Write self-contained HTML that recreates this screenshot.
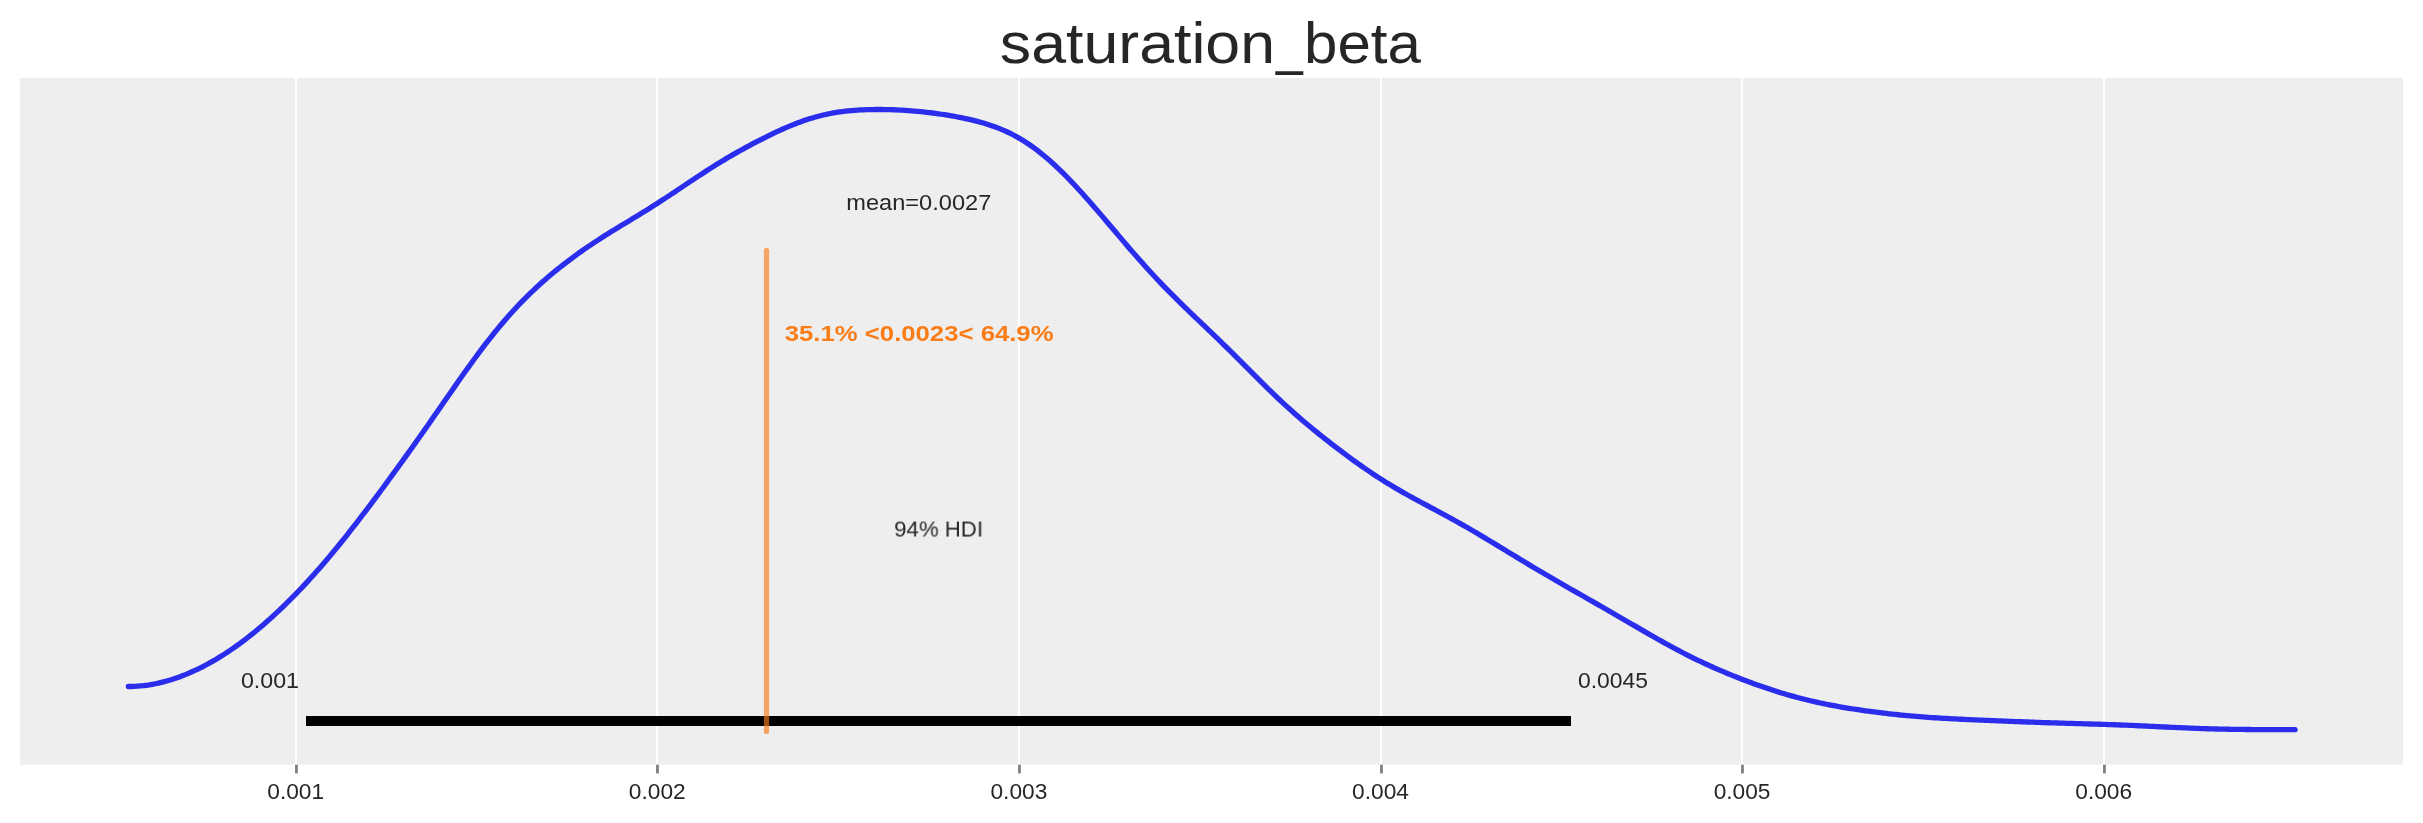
<!DOCTYPE html>
<html lang="en"><head><meta charset="utf-8"><title>saturation_beta</title>
<style>
html,body{margin:0;padding:0;background:#fff;}
body{width:2423px;height:823px;position:relative;overflow:hidden;font-family:"Liberation Sans",sans-serif;}
svg{position:absolute;left:0;top:0;}
.t{will-change:transform;position:absolute;left:0;top:0;white-space:pre;line-height:1;transform-origin:0 0;font-family:"Liberation Sans",sans-serif;}
.c{text-align:center;width:400px;transform-origin:200px 0;}
</style></head><body>
<svg width="2423" height="823" viewBox="0 0 2423 823">
<rect x="19.9" y="77.9" width="2383.10" height="686.80" fill="#eeeeee"/>
<rect x="294.95" y="77.9" width="2.1" height="686.80" fill="#fff"/><rect x="655.95" y="77.9" width="2.1" height="686.80" fill="#fff"/><rect x="1017.95" y="77.9" width="2.1" height="686.80" fill="#fff"/><rect x="1379.95" y="77.9" width="2.1" height="686.80" fill="#fff"/><rect x="1740.95" y="77.9" width="2.1" height="686.80" fill="#fff"/><rect x="2102.95" y="77.9" width="2.1" height="686.80" fill="#fff"/>
<rect x="295.05" y="764.7" width="2.8" height="8.7" fill="#808080"/><rect x="656.05" y="764.7" width="2.8" height="8.7" fill="#808080"/><rect x="1018.05" y="764.7" width="2.8" height="8.7" fill="#808080"/><rect x="1380.05" y="764.7" width="2.8" height="8.7" fill="#808080"/><rect x="1741.05" y="764.7" width="2.8" height="8.7" fill="#808080"/><rect x="2103.05" y="764.7" width="2.8" height="8.7" fill="#808080"/>
<path d="M128.4,686.51 L131.4,686.48 L134.4,686.38 L137.4,686.20 L140.4,685.96 L143.4,685.66 L146.4,685.28 L149.4,684.84 L152.4,684.33 L155.4,683.76 L158.4,683.12 L161.4,682.41 L164.4,681.65 L167.4,680.82 L170.4,679.93 L173.4,678.98 L176.4,677.97 L179.4,676.91 L182.4,675.78 L185.4,674.59 L188.4,673.35 L191.4,672.05 L194.4,670.70 L197.4,669.29 L200.4,667.82 L203.4,666.30 L206.4,664.73 L209.4,663.10 L212.4,661.41 L215.4,659.67 L218.4,657.88 L221.4,656.03 L224.4,654.13 L227.4,652.18 L230.4,650.17 L233.4,648.11 L236.4,646.00 L239.4,643.83 L242.4,641.61 L245.4,639.34 L248.4,637.02 L251.4,634.65 L254.4,632.23 L257.4,629.76 L260.4,627.24 L263.4,624.67 L266.4,622.06 L269.4,619.39 L272.4,616.68 L275.4,613.92 L278.4,611.12 L281.4,608.27 L284.4,605.38 L287.4,602.44 L290.4,599.45 L293.4,596.42 L296.4,593.34 L299.4,590.22 L302.4,587.06 L305.4,583.85 L308.4,580.60 L311.4,577.30 L314.4,573.96 L317.4,570.58 L320.4,567.15 L323.4,563.68 L326.4,560.17 L329.4,556.62 L332.4,553.03 L335.4,549.41 L338.4,545.74 L341.4,542.04 L344.4,538.30 L347.4,534.53 L350.4,530.73 L353.4,526.90 L356.4,523.03 L359.4,519.14 L362.4,515.23 L365.4,511.29 L368.4,507.33 L371.4,503.34 L374.4,499.34 L377.4,495.31 L380.4,491.27 L383.4,487.21 L386.4,483.14 L389.4,479.04 L392.4,474.93 L395.4,470.81 L398.4,466.67 L401.4,462.51 L404.4,458.34 L407.4,454.15 L410.4,449.95 L413.4,445.73 L416.4,441.50 L419.4,437.25 L422.4,432.99 L425.4,428.71 L428.4,424.43 L431.4,420.13 L434.4,415.82 L437.4,411.50 L440.4,407.18 L443.4,402.86 L446.4,398.54 L449.4,394.22 L452.4,389.91 L455.4,385.61 L458.4,381.33 L461.4,377.06 L464.4,372.83 L467.4,368.62 L470.4,364.44 L473.4,360.30 L476.4,356.21 L479.4,352.16 L482.4,348.17 L485.4,344.23 L488.4,340.35 L491.4,336.53 L494.4,332.78 L497.4,329.09 L500.4,325.47 L503.4,321.93 L506.4,318.45 L509.4,315.05 L512.4,311.72 L515.4,308.45 L518.4,305.26 L521.4,302.14 L524.4,299.09 L527.4,296.10 L530.4,293.18 L533.4,290.31 L536.4,287.51 L539.4,284.77 L542.4,282.08 L545.4,279.44 L548.4,276.86 L551.4,274.32 L554.4,271.83 L557.4,269.38 L560.4,266.98 L563.4,264.62 L566.4,262.30 L569.4,260.02 L572.4,257.78 L575.4,255.58 L578.4,253.41 L581.4,251.28 L584.4,249.18 L587.4,247.12 L590.4,245.08 L593.4,243.08 L596.4,241.10 L599.4,239.16 L602.4,237.23 L605.4,235.34 L608.4,233.46 L611.4,231.60 L614.4,229.75 L617.4,227.92 L620.4,226.09 L623.4,224.28 L626.4,222.46 L629.4,220.65 L632.4,218.84 L635.4,217.02 L638.4,215.19 L641.4,213.35 L644.4,211.50 L647.4,209.64 L650.4,207.76 L653.4,205.86 L656.4,203.95 L659.4,202.02 L662.4,200.08 L665.4,198.12 L668.4,196.15 L671.4,194.16 L674.4,192.17 L677.4,190.16 L680.4,188.15 L683.4,186.14 L686.4,184.13 L689.4,182.12 L692.4,180.12 L695.4,178.12 L698.4,176.14 L701.4,174.17 L704.4,172.21 L707.4,170.28 L710.4,168.36 L713.4,166.47 L716.4,164.60 L719.4,162.75 L722.4,160.92 L725.4,159.12 L728.4,157.34 L731.4,155.59 L734.4,153.86 L737.4,152.15 L740.4,150.47 L743.4,148.81 L746.4,147.17 L749.4,145.55 L752.4,143.95 L755.4,142.37 L758.4,140.82 L761.4,139.28 L764.4,137.77 L767.4,136.28 L770.4,134.81 L773.4,133.37 L776.4,131.96 L779.4,130.58 L782.4,129.23 L785.4,127.91 L788.4,126.62 L791.4,125.38 L794.4,124.17 L797.4,123.01 L800.4,121.90 L803.4,120.83 L806.4,119.80 L809.4,118.83 L812.4,117.91 L815.4,117.05 L818.4,116.23 L821.4,115.47 L824.4,114.76 L827.4,114.11 L830.4,113.50 L833.4,112.95 L836.4,112.44 L839.4,111.99 L842.4,111.58 L845.4,111.21 L848.4,110.88 L851.4,110.60 L854.4,110.35 L857.4,110.14 L860.4,109.96 L863.4,109.81 L866.4,109.69 L869.4,109.60 L872.4,109.54 L875.4,109.50 L878.4,109.49 L881.4,109.50 L884.4,109.53 L887.4,109.59 L890.4,109.67 L893.4,109.77 L896.4,109.89 L899.4,110.03 L902.4,110.19 L905.4,110.38 L908.4,110.58 L911.4,110.81 L914.4,111.06 L917.4,111.33 L920.4,111.62 L923.4,111.94 L926.4,112.27 L929.4,112.63 L932.4,113.00 L935.4,113.40 L938.4,113.81 L941.4,114.25 L944.4,114.71 L947.4,115.18 L950.4,115.68 L953.4,116.21 L956.4,116.75 L959.4,117.32 L962.4,117.92 L965.4,118.54 L968.4,119.20 L971.4,119.89 L974.4,120.62 L977.4,121.38 L980.4,122.19 L983.4,123.04 L986.4,123.95 L989.4,124.91 L992.4,125.92 L995.4,127.00 L998.4,128.15 L1001.4,129.37 L1004.4,130.65 L1007.4,132.02 L1010.4,133.47 L1013.4,135.00 L1016.4,136.62 L1019.4,138.32 L1022.4,140.11 L1025.4,142.00 L1028.4,143.97 L1031.4,146.04 L1034.4,148.20 L1037.4,150.45 L1040.4,152.79 L1043.4,155.21 L1046.4,157.73 L1049.4,160.32 L1052.4,163.00 L1055.4,165.76 L1058.4,168.59 L1061.4,171.50 L1064.4,174.47 L1067.4,177.51 L1070.4,180.61 L1073.4,183.77 L1076.4,186.98 L1079.4,190.24 L1082.4,193.55 L1085.4,196.90 L1088.4,200.28 L1091.4,203.70 L1094.4,207.15 L1097.4,210.63 L1100.4,214.13 L1103.4,217.64 L1106.4,221.17 L1109.4,224.71 L1112.4,228.25 L1115.4,231.80 L1118.4,235.34 L1121.4,238.87 L1124.4,242.40 L1127.4,245.91 L1130.4,249.40 L1133.4,252.87 L1136.4,256.31 L1139.4,259.73 L1142.4,263.11 L1145.4,266.46 L1148.4,269.78 L1151.4,273.06 L1154.4,276.31 L1157.4,279.52 L1160.4,282.68 L1163.4,285.82 L1166.4,288.91 L1169.4,291.97 L1172.4,294.99 L1175.4,297.99 L1178.4,300.95 L1181.4,303.90 L1184.4,306.81 L1187.4,309.71 L1190.4,312.60 L1193.4,315.47 L1196.4,318.34 L1199.4,321.20 L1202.4,324.06 L1205.4,326.92 L1208.4,329.79 L1211.4,332.67 L1214.4,335.56 L1217.4,338.47 L1220.4,341.38 L1223.4,344.31 L1226.4,347.26 L1229.4,350.22 L1232.4,353.19 L1235.4,356.18 L1238.4,359.17 L1241.4,362.17 L1244.4,365.18 L1247.4,368.19 L1250.4,371.20 L1253.4,374.21 L1256.4,377.21 L1259.4,380.20 L1262.4,383.17 L1265.4,386.12 L1268.4,389.06 L1271.4,391.97 L1274.4,394.85 L1277.4,397.71 L1280.4,400.53 L1283.4,403.33 L1286.4,406.09 L1289.4,408.82 L1292.4,411.51 L1295.4,414.17 L1298.4,416.80 L1301.4,419.39 L1304.4,421.95 L1307.4,424.48 L1310.4,426.99 L1313.4,429.46 L1316.4,431.91 L1319.4,434.33 L1322.4,436.73 L1325.4,439.11 L1328.4,441.46 L1331.4,443.79 L1334.4,446.11 L1337.4,448.40 L1340.4,450.67 L1343.4,452.93 L1346.4,455.16 L1349.4,457.37 L1352.4,459.56 L1355.4,461.73 L1358.4,463.87 L1361.4,465.99 L1364.4,468.08 L1367.4,470.14 L1370.4,472.18 L1373.4,474.19 L1376.4,476.16 L1379.4,478.11 L1382.4,480.02 L1385.4,481.91 L1388.4,483.76 L1391.4,485.58 L1394.4,487.38 L1397.4,489.14 L1400.4,490.88 L1403.4,492.60 L1406.4,494.29 L1409.4,495.96 L1412.4,497.61 L1415.4,499.25 L1418.4,500.87 L1421.4,502.48 L1424.4,504.09 L1427.4,505.69 L1430.4,507.29 L1433.4,508.89 L1436.4,510.49 L1439.4,512.10 L1442.4,513.72 L1445.4,515.34 L1448.4,516.98 L1451.4,518.62 L1454.4,520.28 L1457.4,521.96 L1460.4,523.65 L1463.4,525.35 L1466.4,527.07 L1469.4,528.80 L1472.4,530.54 L1475.4,532.30 L1478.4,534.07 L1481.4,535.85 L1484.4,537.64 L1487.4,539.44 L1490.4,541.24 L1493.4,543.06 L1496.4,544.87 L1499.4,546.69 L1502.4,548.52 L1505.4,550.34 L1508.4,552.17 L1511.4,553.99 L1514.4,555.82 L1517.4,557.64 L1520.4,559.45 L1523.4,561.26 L1526.4,563.07 L1529.4,564.87 L1532.4,566.67 L1535.4,568.46 L1538.4,570.24 L1541.4,572.01 L1544.4,573.78 L1547.4,575.54 L1550.4,577.30 L1553.4,579.05 L1556.4,580.79 L1559.4,582.53 L1562.4,584.26 L1565.4,585.99 L1568.4,587.71 L1571.4,589.43 L1574.4,591.14 L1577.4,592.86 L1580.4,594.57 L1583.4,596.28 L1586.4,597.99 L1589.4,599.70 L1592.4,601.41 L1595.4,603.13 L1598.4,604.84 L1601.4,606.56 L1604.4,608.28 L1607.4,610.01 L1610.4,611.74 L1613.4,613.47 L1616.4,615.20 L1619.4,616.94 L1622.4,618.68 L1625.4,620.43 L1628.4,622.17 L1631.4,623.92 L1634.4,625.66 L1637.4,627.41 L1640.4,629.15 L1643.4,630.89 L1646.4,632.62 L1649.4,634.35 L1652.4,636.07 L1655.4,637.78 L1658.4,639.48 L1661.4,641.17 L1664.4,642.84 L1667.4,644.50 L1670.4,646.14 L1673.4,647.76 L1676.4,649.37 L1679.4,650.95 L1682.4,652.52 L1685.4,654.06 L1688.4,655.59 L1691.4,657.09 L1694.4,658.57 L1697.4,660.03 L1700.4,661.46 L1703.4,662.88 L1706.4,664.27 L1709.4,665.64 L1712.4,666.99 L1715.4,668.32 L1718.4,669.62 L1721.4,670.91 L1724.4,672.18 L1727.4,673.44 L1730.4,674.67 L1733.4,675.88 L1736.4,677.08 L1739.4,678.26 L1742.4,679.43 L1745.4,680.57 L1748.4,681.70 L1751.4,682.81 L1754.4,683.91 L1757.4,684.98 L1760.4,686.04 L1763.4,687.09 L1766.4,688.11 L1769.4,689.11 L1772.4,690.10 L1775.4,691.06 L1778.4,692.01 L1781.4,692.93 L1784.4,693.83 L1787.4,694.72 L1790.4,695.58 L1793.4,696.42 L1796.4,697.23 L1799.4,698.03 L1802.4,698.80 L1805.4,699.55 L1808.4,700.28 L1811.4,700.99 L1814.4,701.68 L1817.4,702.35 L1820.4,703.00 L1823.4,703.63 L1826.4,704.24 L1829.4,704.83 L1832.4,705.40 L1835.4,705.96 L1838.4,706.50 L1841.4,707.03 L1844.4,707.54 L1847.4,708.04 L1850.4,708.52 L1853.4,709.00 L1856.4,709.45 L1859.4,709.90 L1862.4,710.34 L1865.4,710.76 L1868.4,711.17 L1871.4,711.58 L1874.4,711.97 L1877.4,712.35 L1880.4,712.72 L1883.4,713.08 L1886.4,713.43 L1889.4,713.77 L1892.4,714.11 L1895.4,714.43 L1898.4,714.74 L1901.4,715.04 L1904.4,715.33 L1907.4,715.62 L1910.4,715.89 L1913.4,716.15 L1916.4,716.40 L1919.4,716.65 L1922.4,716.88 L1925.4,717.11 L1928.4,717.33 L1931.4,717.54 L1934.4,717.74 L1937.4,717.93 L1940.4,718.11 L1943.4,718.29 L1946.4,718.47 L1949.4,718.63 L1952.4,718.79 L1955.4,718.95 L1958.4,719.10 L1961.4,719.25 L1964.4,719.39 L1967.4,719.53 L1970.4,719.66 L1973.4,719.80 L1976.4,719.93 L1979.4,720.06 L1982.4,720.19 L1985.4,720.31 L1988.4,720.44 L1991.4,720.57 L1994.4,720.69 L1997.4,720.81 L2000.4,720.93 L2003.4,721.06 L2006.4,721.18 L2009.4,721.30 L2012.4,721.42 L2015.4,721.53 L2018.4,721.65 L2021.4,721.77 L2024.4,721.88 L2027.4,721.99 L2030.4,722.10 L2033.4,722.21 L2036.4,722.32 L2039.4,722.43 L2042.4,722.53 L2045.4,722.63 L2048.4,722.73 L2051.4,722.83 L2054.4,722.93 L2057.4,723.02 L2060.4,723.11 L2063.4,723.20 L2066.4,723.29 L2069.4,723.38 L2072.4,723.47 L2075.4,723.55 L2078.4,723.64 L2081.4,723.72 L2084.4,723.81 L2087.4,723.90 L2090.4,723.98 L2093.4,724.07 L2096.4,724.16 L2099.4,724.26 L2102.4,724.35 L2105.4,724.45 L2108.4,724.55 L2111.4,724.65 L2114.4,724.76 L2117.4,724.87 L2120.4,724.98 L2123.4,725.10 L2126.4,725.22 L2129.4,725.35 L2132.4,725.47 L2135.4,725.60 L2138.4,725.74 L2141.4,725.87 L2144.4,726.01 L2147.4,726.15 L2150.4,726.29 L2153.4,726.44 L2156.4,726.58 L2159.4,726.73 L2162.4,726.87 L2165.4,727.02 L2168.4,727.16 L2171.4,727.30 L2174.4,727.44 L2177.4,727.58 L2180.4,727.71 L2183.4,727.84 L2186.4,727.97 L2189.4,728.09 L2192.4,728.21 L2195.4,728.32 L2198.4,728.43 L2201.4,728.54 L2204.4,728.64 L2207.4,728.73 L2210.4,728.82 L2213.4,728.90 L2216.4,728.98 L2219.4,729.05 L2222.4,729.12 L2225.4,729.18 L2228.4,729.24 L2231.4,729.29 L2234.4,729.33 L2237.4,729.38 L2240.4,729.41 L2243.4,729.45 L2246.4,729.48 L2249.4,729.50 L2252.4,729.53 L2255.4,729.55 L2258.4,729.56 L2261.4,729.58 L2264.4,729.59 L2267.4,729.60 L2270.4,729.61 L2273.4,729.62 L2276.4,729.63 L2279.4,729.63 L2282.4,729.64 L2285.4,729.64 L2288.4,729.64 L2291.4,729.64 L2294.4,729.64 L2295.0,729.64" fill="none" stroke="#2a2eec" stroke-width="5.3" stroke-linecap="round" stroke-linejoin="round"/>
<rect x="306" y="716" width="1265" height="10" fill="#000"/>
<line x1="766.5" y1="250.3" x2="766.5" y2="731.4" stroke="#fa7c17" stroke-opacity="0.65" stroke-width="5.2" stroke-linecap="round"/>
</svg>
<div class="title" style="color:#262626"><span class="t" style="font-size:57.15px;transform:translate(999.86px,14.85px) scaleX(1.0965)">saturation</span><span class="t" style="font-size:57.15px;transform:translate(1276.00px,15.99px) scaleX(0.84)">_</span><span class="t" style="font-size:57.15px;transform:translate(1304.00px,14.85px) scaleX(1.0504)">beta</span></div>
<div class="t" style="font-size:22.6px;color:#262626;font-weight:normal;transform:translate(846.35px,191.87px) scaleX(1.0438)">mean=0.0027</div>
<div class="t" style="font-size:22.9px;color:#fa7c17;font-weight:bold;transform:translate(784.77px,321.96px) scaleX(1.1232)">35.1% &lt;0.0023&lt; 64.9%</div>
<div class="t" style="font-size:22.6px;color:#262626;font-weight:normal;transform:translate(894.13px,518.55px) scaleX(0.9828)">94% HDI</div>
<div class="t" style="font-size:22.6px;color:#262626;font-weight:normal;transform:translate(240.90px,669.67px) scaleX(1.0277)">0.001</div>
<div class="t" style="font-size:22.6px;color:#262626;font-weight:normal;transform:translate(1577.90px,669.67px) scaleX(1.0137)">0.0045</div>
<div class="t c" style="font-size:22.5px;color:#262626;font-weight:normal;transform:translate(95.68px,780.80px) scaleX(1.0098)">0.001</div>
<div class="t c" style="font-size:22.5px;color:#262626;font-weight:normal;transform:translate(457.28px,780.80px) scaleX(1.0098)">0.002</div>
<div class="t c" style="font-size:22.5px;color:#262626;font-weight:normal;transform:translate(818.88px,780.80px) scaleX(1.0098)">0.003</div>
<div class="t c" style="font-size:22.5px;color:#262626;font-weight:normal;transform:translate(1180.48px,780.80px) scaleX(1.0098)">0.004</div>
<div class="t c" style="font-size:22.5px;color:#262626;font-weight:normal;transform:translate(1542.08px,780.80px) scaleX(1.0098)">0.005</div>
<div class="t c" style="font-size:22.5px;color:#262626;font-weight:normal;transform:translate(1903.68px,780.80px) scaleX(1.0098)">0.006</div>

</body></html>
